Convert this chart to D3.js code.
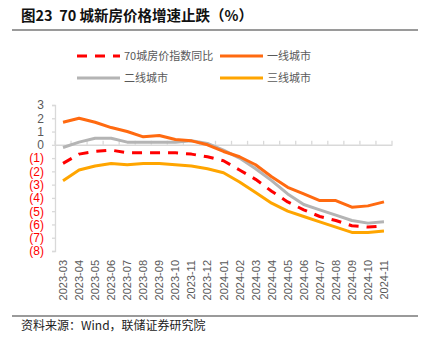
<!DOCTYPE html>
<html>
<head>
<meta charset="utf-8">
<script src="https://cdn.jsdelivr.net/npm/d3@7"></script>
<style>
  body { margin: 0; background: #fff; }
  svg { display: block; font-family: 'Noto Sans CJK SC', 'Liberation Sans', sans-serif; }
</style>
</head>
<body>
<div id="chart"></div>
<script>
// months on the x axis
var months = ['2023-03', '2023-04', '2023-05', '2023-06', '2023-07', '2023-08', '2023-09', '2023-10',
  '2023-11', '2023-12', '2024-01', '2024-02', '2024-03', '2024-04', '2024-05', '2024-06', '2024-07',
  '2024-08', '2024-09', '2024-10', '2024-11']

// year-on-year change, %
var city70 = [-1.4, -0.7, -0.5, -0.4, -0.6, -0.6, -0.6, -0.6, -0.7, -0.9, -1.2, -1.9, -2.6, -3.5, -4.3, -4.9, -5.4, -5.7, -6.1, -6.2, -6.1]
var tier1 = [1.7, 2.0, 1.7, 1.3, 1.0, 0.6, 0.7, 0.4, 0.3, 0.0, -0.5, -0.9, -1.5, -2.4, -3.2, -3.7, -4.2, -4.2, -4.7, -4.6, -4.3]
var tier2 = [-0.2, 0.2, 0.5, 0.5, 0.2, 0.2, 0.2, 0.2, 0.3, 0.1, -0.4, -1.0, -1.8, -2.7, -3.7, -4.5, -4.9, -5.3, -5.7, -5.9, -5.8]
var tier3 = [-2.7, -1.9, -1.6, -1.4, -1.5, -1.4, -1.4, -1.5, -1.6, -1.8, -2.1, -2.8, -3.6, -4.4, -5.0, -5.4, -5.8, -6.2, -6.6, -6.6, -6.5]

var yTicks = [3, 2, 1, 0, -1, -2, -3, -4, -5, -6, -7, -8]

var series = [
  { name: '70城房价指数同比', values: city70, color: '#FF0000', dash: '10,8' },
  { name: '一线城市', values: tier1, color: '#FF6A10', dash: null },
  { name: '二线城市', values: tier2, color: '#B4B4B4', dash: null },
  { name: '三线城市', values: tier3, color: '#FFA500', dash: null }
]

var W = 423
var H = 345

var svg = d3.select('#chart').append('svg')
  .attr('width', W)
  .attr('height', H)

// title and rules
svg.append('text')
  .attr('x', 21)
  .attr('y', 21)
  .attr('font-size', 14.5)
  .attr('font-weight', 'bold')
  .attr('fill', '#111')
  .attr('xml:space', 'preserve')
  .text('图23  70 城新房价格增速止跌（%）')

svg.append('line')
  .attr('x1', 12).attr('x2', 418)
  .attr('y1', 30).attr('y2', 30)
  .attr('stroke', '#9a9a9a').attr('stroke-width', 2)

svg.append('line')
  .attr('x1', 12).attr('x2', 418)
  .attr('y1', 316).attr('y2', 316)
  .attr('stroke', '#9a9a9a').attr('stroke-width', 2)

svg.append('text')
  .attr('x', 21)
  .attr('y', 330)
  .attr('font-size', 12)
  .attr('fill', '#222')
  .text('资料来源：Wind，联储证券研究院')

// scales
var x = d3.scaleBand().domain(months).range([55, 392])
var y = d3.scaleLinear().domain([-8, 3]).range([251, 105])

// y axis
var yAxis = svg.append('g')
  .attr('transform', 'translate(55,0)')
  .call(d3.axisLeft(y).tickValues(yTicks).tickSize(3).tickPadding(8)
    .tickFormat(function (d) { return d < 0 ? '(' + Math.abs(d) + ')' : d }))
yAxis.select('.domain').attr('stroke', '#D9D9D9').attr('stroke-width', 1.3)
yAxis.selectAll('.tick line').attr('stroke', '#D9D9D9').attr('stroke-width', 1.3)
yAxis.selectAll('.tick text')
  .attr('font-size', 12)
  .attr('font-family', "'Liberation Sans', sans-serif")
  .attr('fill', function (d) { return d < 0 ? '#FF0000' : '#595959' })

// zero line with band ticks pointing up
var xAxis = svg.append('g')
  .attr('transform', 'translate(0,' + y(0) + ')')
  .call(d3.axisTop(x).tickSize(0).tickFormat(''))
xAxis.select('.domain').attr('stroke', '#D9D9D9').attr('stroke-width', 1.5)
xAxis.selectAll('.tick').remove()
xAxis.selectAll('line.band')
  .data(months.concat(['end']))
  .enter().append('line')
  .attr('class', 'band')
  .attr('x1', function (d, i) { return x.range()[0] + i * x.step() })
  .attr('x2', function (d, i) { return x.range()[0] + i * x.step() })
  .attr('y1', 0).attr('y2', -4)
  .attr('stroke', '#D9D9D9').attr('stroke-width', 1.3)

// x labels, rotated
svg.append('g').selectAll('text')
  .data(months)
  .enter().append('text')
  .attr('transform', function (d) {
    return 'translate(' + (x(d) + x.bandwidth() / 2 + 4) + ',260)rotate(-90)'
  })
  .attr('text-anchor', 'end')
  .attr('font-size', 11)
  .attr('font-family', "'Liberation Sans', sans-serif")
  .attr('fill', '#595959')
  .text(function (d) { return d })

// lines
var line = d3.line()
  .x(function (d, i) { return x(months[i]) + x.bandwidth() / 2 })
  .y(function (d) { return y(d) })

// draw order: tier3, tier2, tier1, 70-city dashed on top
;[series[3], series[2], series[1], series[0]].forEach(function (s) {
  svg.append('path')
    .datum(s.values)
    .attr('d', line)
    .attr('fill', 'none')
    .attr('stroke', s.color)
    .attr('stroke-width', 3)
    .attr('stroke-linejoin', 'round')
    .attr('stroke-dasharray', s.dash)
})

// legend
var legendPos = [
  { x: 77, y: 56 },
  { x: 220, y: 56 },
  { x: 77, y: 78 },
  { x: 220, y: 78 }
]
var legend = svg.append('g').selectAll('g')
  .data(series)
  .enter().append('g')
  .attr('transform', function (d, i) { return 'translate(' + legendPos[i].x + ',' + legendPos[i].y + ')' })

legend.append('line')
  .attr('x1', 0).attr('x2', 43)
  .attr('y1', 0).attr('y2', 0)
  .attr('stroke', function (d) { return d.color })
  .attr('stroke-width', 3)
  .attr('stroke-dasharray', function (d) { return d.dash })

legend.append('text')
  .attr('x', 47)
  .attr('y', 4)
  .attr('font-size', 11)
  .attr('fill', '#595959')
  .text(function (d) { return d.name })
</script>
</body>
</html>
